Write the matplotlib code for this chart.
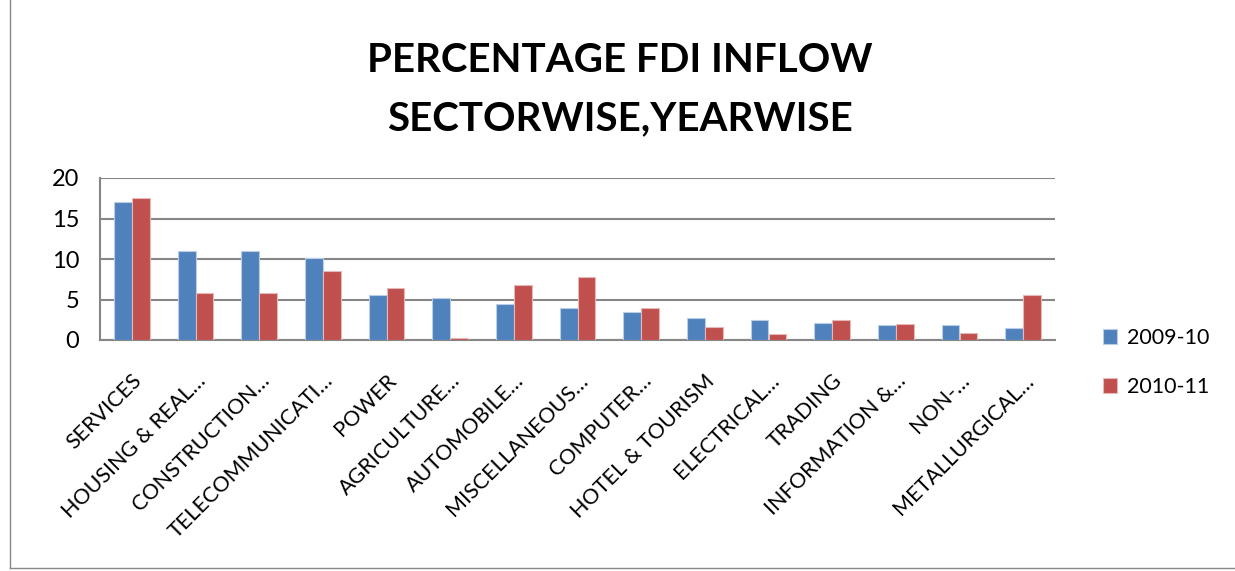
import numpy as np
import matplotlib.pyplot as plt
from matplotlib.lines import Line2D

# sector labels as shown (truncated like the source chart)
sectors = ["SERVICES", "HOUSING & REAL…", "CONSTRUCTION…", "TELECOMMUNICATI…",
           "POWER", "AGRICULTURE…", "AUTOMOBILE…", "MISCELLANEOUS…",
           "COMPUTER…", "HOTEL & TOURISM", "ELECTRICAL…", "TRADING",
           "INFORMATION &…", "NON-…", "METALLURGICAL…"]
fdi_2009 = [17.0, 11.0, 10.95, 10.1, 5.6, 5.2, 4.5, 3.95, 3.5, 2.75, 2.45, 2.15, 1.8, 1.8, 1.5]
fdi_2010 = [17.5, 5.8, 5.8, 8.5, 6.45, 0.25, 6.8, 7.8, 3.95, 1.55, 0.8, 2.45, 2.0, 0.9, 5.6]
series_names = ["2009-10", "2010-11"]
yticks = [0, 5, 10, 15, 20]

plt.rcParams['font.family'] = ['Lato', 'DejaVu Sans']

fig = plt.figure(figsize=(12.35, 5.71), dpi=100)
ax = fig.add_axes([100 / 1235, 1 - 340 / 571, 955 / 1235, 162 / 571])

x = np.arange(len(sectors))
w = 0.28
ax.bar(x - w / 2, fdi_2009, w, color='#4F81BD', edgecolor='#B9CDE5', linewidth=0.8,
       label=series_names[0], zorder=3)
ax.bar(x + w / 2, fdi_2010, w, color='#C0504D', edgecolor='#E6B9B8', linewidth=0.8,
       label=series_names[1], zorder=3)

ax.set_xlim(-0.5, len(sectors) - 0.5)
ax.set_ylim(0, 20)
ax.set_yticks(yticks)
ax.tick_params(axis='y', length=0, labelsize=17, pad=15)
ax.tick_params(axis='x', length=0, labelsize=15.5, pad=22)
ax.set_xticks(x)
ax.set_xticklabels(sectors, rotation=45, ha='right', rotation_mode='anchor')
ax.grid(axis='y', color='#868686', linewidth=1.5, zorder=0)
for s in ['top', 'right']:
    ax.spines[s].set_visible(False)
for s in ['left', 'bottom']:
    ax.spines[s].set_color('#868686')
    ax.spines[s].set_linewidth(1.5)

ax.legend(loc='center left', bbox_to_anchor=(1.03, -0.14), frameon=False,
          fontsize=15.5, handlelength=0.65, handleheight=0.65, handletextpad=0.45,
          labelspacing=1.35)

fig.text(0.502, 1 - 61 / 571, "PERCENTAGE FDI INFLOW", ha='center', va='center',
         fontsize=29, fontweight='bold')
fig.text(0.502, 1 - 119 / 571, "SECTORWISE,YEARWISE", ha='center', va='center',
         fontsize=29, fontweight='bold')

# outer chart border
fig.add_artist(Line2D([10 / 1235, 10 / 1235], [3 / 571, 1], color='#888888', linewidth=1))
fig.add_artist(Line2D([10 / 1235, 1], [3 / 571, 3 / 571], color='#888888', linewidth=1))

fig.savefig('out.png', dpi=100)
